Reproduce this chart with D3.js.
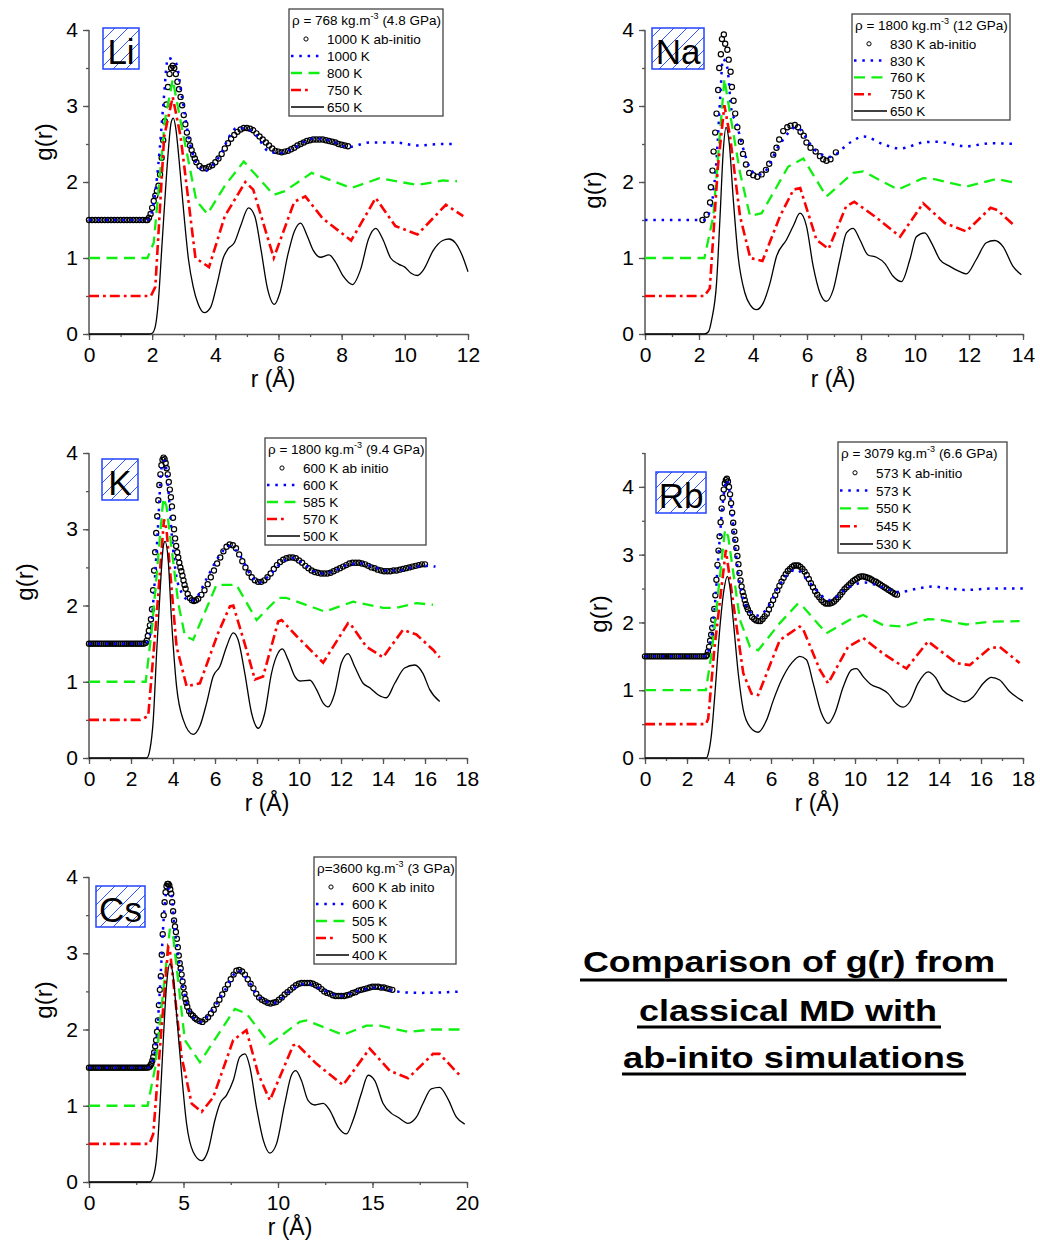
<!DOCTYPE html>
<html><head><meta charset="utf-8">
<script src="https://cdn.jsdelivr.net/npm/d3@7"></script>
<style>
body{margin:0;background:#fff;}
svg{display:block;font-family:"Liberation Sans",Arial,sans-serif;}
</style></head><body>
<svg id="c" width="1040" height="1244"></svg>
<script>
// ---------------- DATA (r in Å, g(r) with offsets as plotted) ----------------
const liAbInitio = [[0,1.5],[0.1,1.5],[0.2,1.5],[0.3,1.5],[0.4,1.5],[0.5,1.5],[0.6,1.5],[0.7,1.5],[0.8,1.5],[0.9,1.5],[1.0,1.5],[1.1,1.5],[1.2,1.5],[1.3,1.5],[1.4,1.5],[1.5,1.5],[1.6,1.5],[1.7,1.5],[1.8,1.5],[1.85,1.5],[1.9,1.53],[1.95,1.58],[2.0,1.66],[2.05,1.75],[2.1,1.82],[2.15,1.88],[2.2,1.95],[2.25,2.1],[2.3,2.32],[2.35,2.55],[2.4,2.8],[2.45,3.02],[2.5,3.25],[2.55,3.42],[2.6,3.5],[2.65,3.53],[2.7,3.5],[2.75,3.42],[2.8,3.32],[2.85,3.22],[2.9,3.12],[2.95,3.01],[3.0,2.88],[3.05,2.76],[3.1,2.65],[3.15,2.56],[3.2,2.48],[3.25,2.42],[3.3,2.36],[3.35,2.31],[3.4,2.26],[3.5,2.21],[3.6,2.18],[3.7,2.18],[3.8,2.2],[3.9,2.22],[4.0,2.26],[4.1,2.31],[4.2,2.37],[4.3,2.44],[4.4,2.51],[4.5,2.57],[4.6,2.62],[4.7,2.66],[4.8,2.69],[4.9,2.71],[5.0,2.71],[5.1,2.7],[5.2,2.68],[5.3,2.64],[5.4,2.6],[5.5,2.56],[5.6,2.52],[5.7,2.48],[5.8,2.44],[5.9,2.41],[6.0,2.4],[6.1,2.39],[6.2,2.4],[6.3,2.41],[6.4,2.43],[6.5,2.45],[6.6,2.48],[6.7,2.5],[6.8,2.52],[6.9,2.54],[7.0,2.55],[7.1,2.56],[7.2,2.56],[7.3,2.56],[7.4,2.56],[7.5,2.55],[7.6,2.54],[7.7,2.53],[7.8,2.52],[7.9,2.5],[8.0,2.49],[8.1,2.48],[8.2,2.47]];
const liHot = [[0,1.5],[1.85,1.5],[2.0,1.62],[2.2,2.25],[2.35,3.0],[2.5,3.63],[2.75,3.57],[2.95,3.1],[3.2,2.5],[3.4,2.25],[3.65,2.14],[4.05,2.29],[4.69,2.71],[5.0,2.7],[5.32,2.6],[5.69,2.4],[6.06,2.38],[6.5,2.45],[7.1,2.57],[7.6,2.55],[8.2,2.46],[8.9,2.52],[9.7,2.52],[10.4,2.48],[11.2,2.5],[11.65,2.5]];
const liMid = [[0,1.0],[1.85,1.0],[2.05,1.2],[2.4,2.8],[2.65,3.35],[2.9,2.8],[3.4,1.75],[3.75,1.58],[4.3,1.95],[4.9,2.27],[5.85,1.83],[6.2,1.88],[7.05,2.12],[8.3,1.92],[9.2,2.05],[10.4,1.96],[11.2,2.02],[11.65,2.01]];
const liLow = [[0,0.5],[1.96,0.5],[2.1,0.62],[2.38,2.6],[2.65,3.12],[2.9,2.6],[3.37,1.0],[3.8,0.88],[4.3,1.55],[4.95,2.0],[5.2,1.9],[5.85,1.0],[6.5,1.74],[6.85,1.81],[7.4,1.52],[8.3,1.23],[9.08,1.79],[9.7,1.42],[10.4,1.31],[11.3,1.7],[11.85,1.55]];
const liCold = [[0,0],[1.9,0],[2.0,0.01],[2.1,0.1],[2.2,0.45],[2.3,1.1],[2.4,1.75],[2.5,2.35],[2.6,2.78],[2.67,2.84],[2.75,2.7],[2.85,2.3],[3.0,1.6],[3.15,0.98],[3.3,0.62],[3.45,0.4],[3.65,0.28],[3.85,0.35],[4.05,0.65],[4.25,1.0],[4.4,1.12],[4.6,1.2],[4.8,1.42],[5.05,1.66],[5.25,1.55],[5.45,1.1],[5.65,0.6],[5.87,0.39],[6.05,0.55],[6.3,1.05],[6.5,1.35],[6.7,1.46],[6.9,1.3],[7.1,1.1],[7.33,1.01],[7.6,1.04],[7.8,0.95],[8.05,0.76],[8.34,0.65],[8.6,0.85],[8.85,1.25],[9.08,1.39],[9.3,1.25],[9.55,1.0],[9.8,0.92],[10.0,0.88],[10.2,0.8],[10.4,0.77],[10.6,0.85],[10.9,1.1],[11.2,1.23],[11.4,1.25],[11.6,1.2],[11.8,1.05],[12.0,0.82]];
const liLabels = ["1000 K ab-initio","1000 K","800 K","750 K","650 K"];
const liHeader = ["\u03c1 = 768 kg.m","-3"," (4.8 GPa)"];

const naAbInitio = [[2.13,1.5],[2.28,1.57],[2.41,1.73],[2.44,1.93],[2.5,2.15],[2.54,2.4],[2.6,2.65],[2.65,2.9],[2.71,3.21],[2.75,3.5],[2.81,3.68],[2.85,3.88],[2.92,3.94],[2.97,3.82],[3.05,3.74],[3.1,3.61],[3.17,3.45],[3.22,3.25],[3.28,3.07],[3.34,2.9],[3.42,2.72],[3.55,2.53],[3.63,2.37],[3.74,2.23],[3.86,2.12],[4.01,2.09],[4.16,2.07],[4.32,2.1],[4.48,2.16],[4.6,2.24],[4.75,2.36],[4.87,2.45],[4.97,2.56],[5.12,2.67],[5.27,2.72],[5.39,2.74],[5.55,2.75],[5.67,2.72],[5.76,2.66],[5.88,2.61],[5.98,2.52],[6.13,2.45],[6.32,2.4],[6.48,2.34],[6.6,2.3],[6.72,2.28],[6.87,2.3],[7.07,2.39]];
const naHot = [[0,1.5],[2.2,1.5],[2.45,1.68],[2.65,2.3],[2.8,3.2],[2.88,3.62],[3.05,3.5],[3.2,2.95],[3.39,2.77],[3.58,2.51],[4.0,2.13],[4.3,2.1],[5.0,2.5],[5.6,2.72],[6.3,2.42],[6.85,2.33],[7.6,2.52],[8.1,2.6],[8.8,2.5],[9.45,2.44],[10.3,2.52],[10.8,2.53],[11.9,2.47],[12.8,2.51],[13.7,2.5]];
const naMid = [[0,1.0],[2.2,1.0],[2.53,1.55],[2.94,3.36],[3.15,2.9],[3.52,2.12],[3.89,1.55],[4.32,1.59],[5.3,2.2],[5.86,2.31],[6.72,1.81],[7.71,2.12],[8.08,2.14],[9.37,1.9],[10.3,2.05],[10.67,2.04],[11.9,1.94],[13.01,2.04],[13.69,1.99]];
const naLow = [[0,0.5],[2.2,0.5],[2.4,0.6],[2.7,2.2],[2.94,3.01],[3.15,2.6],[3.52,1.55],[3.9,1.0],[4.35,0.96],[5.0,1.55],[5.5,1.9],[5.75,1.92],[6.35,1.24],[6.8,1.12],[7.45,1.68],[7.75,1.74],[8.5,1.55],[9.45,1.28],[10.3,1.72],[11.1,1.46],[11.9,1.35],[12.8,1.66],[13.05,1.63],[13.7,1.42]];
const naCold = [[0,0],[2.2,0],[2.35,0.03],[2.47,0.19],[2.65,0.67],[2.78,1.55],[2.9,2.42],[3.0,2.72],[3.12,2.51],[3.27,1.77],[3.45,1.02],[3.7,0.54],[3.9,0.38],[4.13,0.32],[4.38,0.41],[4.63,0.67],[4.87,1.02],[5.24,1.24],[5.49,1.42],[5.74,1.59],[5.98,1.42],[6.23,0.89],[6.48,0.54],[6.72,0.43],[6.97,0.58],[7.22,0.98],[7.46,1.33],[7.71,1.39],[7.96,1.24],[8.26,1.04],[8.57,1.01],[8.88,0.93],[9.19,0.76],[9.5,0.69],[9.81,0.98],[10.05,1.28],[10.36,1.33],[10.61,1.2],[10.92,0.98],[11.29,0.89],[11.66,0.82],[11.9,0.79],[12.27,0.98],[12.64,1.2],[12.95,1.23],[13.26,1.15],[13.63,0.89],[13.94,0.78]];
const naLabels = ["830 K ab-initio","830 K","760 K","750 K","650 K"];
const naHeader = ["\u03c1 = 1800 kg.m","-3"," (12 GPa)"];

const kAbInitio = [[0,1.5],[0.1,1.5],[0.2,1.5],[0.3,1.5],[0.4,1.5],[0.5,1.5],[0.6,1.5],[0.7,1.5],[0.8,1.5],[0.9,1.5],[1.0,1.5],[1.1,1.5],[1.2,1.5],[1.3,1.5],[1.4,1.5],[1.5,1.5],[1.6,1.5],[1.7,1.5],[1.8,1.5],[1.9,1.5],[2.0,1.5],[2.1,1.5],[2.2,1.5],[2.3,1.5],[2.4,1.5],[2.5,1.5],[2.6,1.5],[2.7,1.51],[2.75,1.54],[2.8,1.6],[2.85,1.67],[2.9,1.74],[2.95,1.82],[3.0,1.95],[3.05,2.2],[3.1,2.46],[3.15,2.7],[3.2,2.95],[3.25,3.17],[3.3,3.38],[3.35,3.58],[3.4,3.72],[3.45,3.84],[3.5,3.91],[3.55,3.94],[3.6,3.92],[3.65,3.87],[3.7,3.8],[3.75,3.72],[3.8,3.62],[3.85,3.52],[3.9,3.42],[3.95,3.3],[4.0,3.15],[4.05,3.0],[4.1,2.88],[4.15,2.78],[4.2,2.7],[4.25,2.63],[4.3,2.56],[4.35,2.5],[4.4,2.45],[4.45,2.39],[4.5,2.33],[4.55,2.27],[4.6,2.22],[4.7,2.15],[4.8,2.1],[4.9,2.07],[5.0,2.06],[5.1,2.07],[5.2,2.09],[5.35,2.14],[5.5,2.2],[5.65,2.28],[5.8,2.37],[5.95,2.46],[6.1,2.55],[6.25,2.63],[6.4,2.71],[6.55,2.77],[6.7,2.8],[6.85,2.79],[7.0,2.75],[7.15,2.67],[7.3,2.58],[7.45,2.5],[7.6,2.43],[7.75,2.37],[7.9,2.33],[8.05,2.31],[8.2,2.31],[8.35,2.33],[8.5,2.37],[8.65,2.42],[8.8,2.48],[8.95,2.53],[9.1,2.57],[9.25,2.6],[9.4,2.62],[9.55,2.63],[9.7,2.63],[9.85,2.62],[10.0,2.59],[10.15,2.56],[10.3,2.52],[10.45,2.49],[10.6,2.46],[10.75,2.44],[10.9,2.43],[11.05,2.42],[11.2,2.42],[11.35,2.42],[11.5,2.43],[11.65,2.45],[11.8,2.47],[11.95,2.49],[12.1,2.51],[12.25,2.53],[12.4,2.55],[12.55,2.56],[12.7,2.56],[12.85,2.56],[13.0,2.55],[13.15,2.54],[13.3,2.52],[13.45,2.5],[13.6,2.49],[13.75,2.47],[13.9,2.46],[14.05,2.45],[14.2,2.45],[14.35,2.45],[14.5,2.46],[14.65,2.46],[14.8,2.47],[14.95,2.48],[15.1,2.49],[15.25,2.5],[15.4,2.51],[15.55,2.52],[15.7,2.53],[15.85,2.54],[16.0,2.54]];
const kHot = [[0,1.5],[2.7,1.5],[2.9,1.6],[3.1,2.2],[3.3,3.1],[3.45,3.8],[3.6,3.9],[3.75,3.6],[3.95,2.9],[4.15,2.4],[4.45,2.15],[4.8,2.06],[5.1,2.1],[5.6,2.35],[6.2,2.65],[6.7,2.78],[7.2,2.65],[7.7,2.4],[8.1,2.3],[8.6,2.4],[9.2,2.57],[9.7,2.62],[10.2,2.55],[10.7,2.45],[11.2,2.42],[11.8,2.47],[12.4,2.54],[13.0,2.55],[13.6,2.5],[14.2,2.46],[14.8,2.46],[15.4,2.5],[16.0,2.52],[16.5,2.51]];
const kMid = [[0,1.0],[2.7,1.0],[3.0,1.7],[3.54,3.41],[3.69,3.3],[4.25,2.03],[4.57,1.6],[4.96,1.55],[6.07,2.27],[7.02,2.27],[7.98,1.81],[9.01,2.1],[9.4,2.1],[11.23,1.92],[12.58,2.05],[14.0,1.97],[14.64,1.97],[15.59,2.03],[16.38,2.01]];
const kLow = [[0,0.5],[2.43,0.5],[2.82,0.55],[3.2,1.8],[3.57,3.13],[3.69,3.0],[4.17,1.46],[4.65,0.94],[5.28,0.98],[6.15,1.64],[6.71,1.99],[6.87,2.0],[7.5,1.42],[7.9,1.03],[8.29,1.07],[9.01,1.79],[9.17,1.81],[9.88,1.6],[11.15,1.25],[12.34,1.77],[12.42,1.77],[13.21,1.46],[14.0,1.32],[14.95,1.68],[15.59,1.62],[16.38,1.42],[16.7,1.32]];
const kCold = [[0,0],[2.75,0],[2.9,0.11],[3.06,0.5],[3.22,1.38],[3.38,2.16],[3.54,2.78],[3.62,2.84],[3.77,2.6],[3.93,1.81],[4.17,0.94],[4.49,0.5],[4.96,0.31],[5.28,0.42],[5.6,0.72],[5.91,1.07],[6.23,1.2],[6.55,1.46],[6.87,1.64],[7.1,1.55],[7.42,1.11],[7.74,0.59],[8.06,0.39],[8.37,0.59],[8.69,1.11],[9.01,1.38],[9.21,1.43],[9.48,1.29],[9.8,1.07],[10.04,1.01],[10.52,1.02],[10.83,0.9],[11.15,0.72],[11.39,0.67],[11.7,0.85],[12.02,1.25],[12.34,1.37],[12.65,1.2],[13.05,0.98],[13.37,0.92],[13.76,0.83],[14.16,0.79],[14.56,0.98],[15.03,1.18],[15.51,1.22],[15.9,1.11],[16.22,0.9],[16.7,0.74]];
const kLabels = ["600 K ab initio","600 K","585 K","570 K","500 K"];
const kHeader = ["\u03c1 = 1800 kg.m","-3"," (9.4 GPa)"];

const rbAbInitio = [[0,1.5],[0.1,1.5],[0.2,1.5],[0.3,1.5],[0.4,1.5],[0.5,1.5],[0.6,1.5],[0.7,1.5],[0.8,1.5],[0.9,1.5],[1.0,1.5],[1.1,1.5],[1.2,1.5],[1.3,1.5],[1.4,1.5],[1.5,1.5],[1.6,1.5],[1.7,1.5],[1.8,1.5],[1.9,1.5],[2.0,1.5],[2.1,1.5],[2.2,1.5],[2.3,1.5],[2.4,1.5],[2.5,1.5],[2.6,1.5],[2.7,1.5],[2.8,1.5],[2.9,1.5],[2.95,1.52],[3.0,1.57],[3.05,1.64],[3.1,1.73],[3.15,1.82],[3.2,1.92],[3.25,2.04],[3.3,2.2],[3.35,2.4],[3.4,2.63],[3.45,2.85],[3.5,3.06],[3.55,3.27],[3.6,3.48],[3.65,3.68],[3.7,3.84],[3.75,3.96],[3.8,4.05],[3.85,4.1],[3.9,4.12],[3.95,4.08],[4.0,4.0],[4.05,3.89],[4.1,3.76],[4.15,3.62],[4.2,3.47],[4.25,3.34],[4.3,3.22],[4.35,3.1],[4.4,2.98],[4.45,2.86],[4.5,2.73],[4.55,2.62],[4.6,2.53],[4.65,2.45],[4.7,2.39],[4.75,2.33],[4.8,2.27],[4.85,2.23],[4.9,2.19],[5.0,2.14],[5.1,2.08],[5.2,2.05],[5.3,2.03],[5.4,2.02],[5.5,2.02],[5.6,2.05],[5.7,2.09],[5.8,2.13],[5.9,2.19],[6.0,2.26],[6.1,2.33],[6.2,2.4],[6.3,2.47],[6.4,2.54],[6.5,2.6],[6.6,2.66],[6.7,2.71],[6.8,2.76],[6.9,2.79],[7.0,2.82],[7.1,2.84],[7.2,2.84],[7.3,2.84],[7.4,2.82],[7.5,2.79],[7.6,2.75],[7.7,2.7],[7.8,2.64],[7.9,2.58],[8.0,2.52],[8.1,2.46],[8.2,2.41],[8.3,2.37],[8.4,2.33],[8.5,2.3],[8.6,2.28],[8.7,2.28],[8.8,2.28],[8.9,2.29],[9.0,2.31],[9.1,2.34],[9.2,2.37],[9.3,2.41],[9.4,2.45],[9.5,2.49],[9.6,2.52],[9.7,2.55],[9.8,2.58],[9.9,2.61],[10.0,2.63],[10.1,2.65],[10.2,2.67],[10.3,2.68],[10.4,2.68],[10.5,2.67],[10.6,2.66],[10.7,2.65],[10.8,2.63],[10.9,2.61],[11.0,2.6],[11.1,2.58],[11.2,2.56],[11.3,2.54],[11.4,2.52],[11.5,2.5],[11.6,2.48],[11.7,2.46],[11.8,2.44],[11.9,2.42],[12.0,2.41]];
const rbHot = [[0,1.5],[2.9,1.5],[3.1,1.68],[3.3,2.15],[3.5,3.0],[3.7,3.75],[3.9,4.1],[4.1,3.75],[4.3,3.1],[4.5,2.6],[4.8,2.25],[5.3,2.1],[5.8,2.2],[6.4,2.55],[7.2,2.78],[7.8,2.6],[8.8,2.33],[9.6,2.5],[10.45,2.59],[11.3,2.52],[12.1,2.45],[13.0,2.5],[13.7,2.53],[14.5,2.5],[15.3,2.48],[16.5,2.5],[18.0,2.5]];
const rbMid = [[0,1.0],[2.9,1.0],[3.17,1.54],[3.81,3.37],[3.96,3.27],[4.52,2.04],[5.0,1.64],[5.39,1.59],[6.42,1.99],[7.29,2.28],[7.53,2.23],[8.64,1.84],[9.75,2.04],[10.39,2.11],[11.34,1.96],[12.29,1.94],[13.48,2.05],[14.03,2.04],[15.3,1.97],[16.41,2.01],[17.84,2.02]];
const rbLow = [[0,0.5],[2.9,0.5],[3.01,0.58],[3.3,1.6],[3.85,3.07],[4.36,1.94],[4.68,1.25],[5.07,0.95],[5.39,0.93],[6.42,1.74],[7.37,1.94],[7.53,1.9],[8.33,1.3],[8.72,1.1],[9.67,1.64],[10.39,1.77],[11.34,1.54],[12.29,1.35],[12.45,1.32],[13.48,1.72],[14.83,1.4],[15.46,1.37],[16.41,1.62],[16.89,1.64],[17.84,1.4]];
const rbCold = [[0,0],[2.93,0],[3.01,0.06],[3.17,0.36],[3.33,0.95],[3.57,1.94],[3.76,2.48],[3.92,2.68],[4.04,2.53],[4.2,2.04],[4.44,1.25],[4.68,0.71],[5.0,0.46],[5.39,0.38],[5.79,0.56],[6.11,0.85],[6.5,1.15],[6.98,1.4],[7.37,1.5],[7.69,1.45],[8.01,1.1],[8.4,0.66],[8.72,0.51],[9.04,0.66],[9.44,1.05],[9.83,1.3],[10.07,1.32],[10.39,1.2],[10.78,1.08],[11.18,1.03],[11.58,0.95],[11.97,0.8],[12.29,0.75],[12.61,0.83],[13.0,1.1],[13.48,1.27],[13.8,1.2],[14.19,1.0],[14.67,0.9],[15.22,0.83],[15.62,0.9],[16.1,1.1],[16.49,1.19],[16.89,1.15],[17.36,0.98],[18.0,0.84]];
const rbLabels = ["573 K ab-initio","573 K","550 K","545 K","530 K"];
const rbHeader = ["\u03c1 = 3079 kg.m","-3"," (6.6 GPa)"];

const csAbInitio = [[0,1.5],[0.1,1.5],[0.2,1.5],[0.3,1.5],[0.4,1.5],[0.5,1.5],[0.6,1.5],[0.7,1.5],[0.8,1.5],[0.9,1.5],[1.0,1.5],[1.1,1.5],[1.2,1.5],[1.3,1.5],[1.4,1.5],[1.5,1.5],[1.6,1.5],[1.7,1.5],[1.8,1.5],[1.9,1.5],[2.0,1.5],[2.1,1.5],[2.2,1.5],[2.3,1.5],[2.4,1.5],[2.5,1.5],[2.6,1.5],[2.7,1.5],[2.8,1.5],[2.9,1.5],[3.0,1.5],[3.1,1.5],[3.2,1.51],[3.25,1.53],[3.3,1.55],[3.35,1.59],[3.4,1.64],[3.45,1.7],[3.5,1.78],[3.55,1.86],[3.6,1.97],[3.65,2.12],[3.7,2.32],[3.75,2.52],[3.8,2.7],[3.85,2.98],[3.9,3.25],[3.95,3.5],[4.0,3.67],[4.05,3.8],[4.1,3.88],[4.15,3.91],[4.2,3.91],[4.25,3.89],[4.3,3.84],[4.35,3.78],[4.4,3.67],[4.45,3.55],[4.5,3.43],[4.55,3.35],[4.6,3.28],[4.65,3.19],[4.7,3.08],[4.75,2.97],[4.8,2.87],[4.85,2.8],[4.9,2.72],[4.95,2.63],[5.0,2.55],[5.05,2.47],[5.1,2.4],[5.15,2.35],[5.2,2.3],[5.3,2.24],[5.4,2.2],[5.5,2.18],[5.6,2.15],[5.7,2.13],[5.85,2.11],[6.0,2.1],[6.15,2.13],[6.3,2.16],[6.45,2.21],[6.6,2.26],[6.75,2.33],[6.9,2.39],[7.05,2.46],[7.2,2.53],[7.35,2.59],[7.5,2.66],[7.65,2.72],[7.8,2.77],[7.95,2.78],[8.1,2.76],[8.25,2.72],[8.4,2.66],[8.55,2.6],[8.7,2.54],[8.85,2.47],[9.0,2.42],[9.15,2.39],[9.3,2.37],[9.45,2.35],[9.6,2.34],[9.75,2.35],[9.9,2.36],[10.05,2.39],[10.2,2.42],[10.35,2.46],[10.5,2.49],[10.65,2.52],[10.8,2.55],[10.95,2.58],[11.1,2.6],[11.25,2.61],[11.4,2.61],[11.55,2.61],[11.7,2.61],[11.85,2.6],[12.0,2.58],[12.15,2.56],[12.3,2.53],[12.45,2.5],[12.6,2.48],[12.75,2.47],[12.9,2.45],[13.05,2.44],[13.2,2.44],[13.35,2.44],[13.5,2.44],[13.65,2.45],[13.8,2.46],[13.95,2.48],[14.1,2.49],[14.25,2.51],[14.4,2.52],[14.55,2.53],[14.7,2.54],[14.85,2.55],[15.0,2.56],[15.15,2.56],[15.3,2.56],[15.45,2.55],[15.6,2.55],[15.75,2.54],[15.9,2.53],[16.05,2.52]];
const csHot = [[0,1.5],[3.1,1.5],[3.35,1.58],[3.6,1.95],[3.8,2.75],[3.95,3.45],[4.15,3.85],[4.35,3.8],[4.5,3.4],[4.7,3.0],[4.95,2.6],[5.3,2.25],[5.9,2.1],[6.5,2.25],[7.2,2.52],[7.9,2.77],[8.4,2.65],[9.0,2.42],[9.8,2.35],[10.6,2.5],[11.5,2.6],[12.3,2.53],[13.3,2.44],[14.2,2.5],[15.2,2.55],[16.2,2.5],[17.5,2.48],[19.8,2.5]];
const csMid = [[0,1.0],[3.1,1.0],[3.5,1.5],[4.28,3.32],[4.46,3.21],[5.07,1.86],[5.87,1.57],[7.72,2.27],[8.33,2.21],[9.57,1.81],[11.15,2.1],[11.5,2.12],[13.44,1.93],[14.68,2.05],[15.38,2.05],[16.88,1.97],[18.2,2.0],[19.61,2.0]];
const csLow = [[0,0.5],[3.2,0.5],[3.4,0.63],[3.8,1.9],[4.19,3.08],[4.28,3.04],[4.9,1.64],[5.43,1.03],[5.96,0.92],[6.57,1.11],[7.63,1.86],[8.33,1.99],[8.95,1.42],[9.57,1.07],[10.8,1.79],[10.98,1.81],[12.04,1.55],[13.44,1.27],[14.85,1.75],[15.91,1.46],[16.88,1.36],[18.2,1.68],[18.55,1.68],[19.61,1.4]];
const csCold = [[0,0],[3.22,0],[3.4,0.07],[3.58,0.33],[3.75,0.98],[3.93,1.86],[4.11,2.6],[4.28,2.86],[4.46,2.69],[4.63,2.21],[4.9,1.42],[5.16,0.77],[5.52,0.39],[5.96,0.28],[6.31,0.42],[6.66,0.81],[6.93,1.03],[7.28,1.14],[7.63,1.33],[7.98,1.64],[8.25,1.68],[8.51,1.51],[8.86,0.98],[9.22,0.55],[9.57,0.38],[9.92,0.5],[10.36,1.03],[10.71,1.4],[10.94,1.46],[11.24,1.33],[11.59,1.07],[11.95,1.01],[12.39,1.03],[12.74,0.94],[13.18,0.72],[13.62,0.63],[13.97,0.81],[14.41,1.16],[14.77,1.4],[15.12,1.33],[15.56,1.03],[16.0,0.9],[16.35,0.85],[16.88,0.77],[17.32,0.85],[17.67,1.03],[18.11,1.22],[18.55,1.24],[18.99,1.09],[19.44,0.85],[19.88,0.76]];
const csLabels = ["600 K ab inito","600 K","505 K","500 K","400 K"];
const csHeader = ["\u03c1=3600 kg.m","-3"," (3 GPa)"];

const titleLines = ["Comparison of g(r) from","classical MD with","ab-inito simulations"];

// ---------------- LAYOUT ----------------
const panels = [
  {name:"Li", ab:liAbInitio, hot:liHot, mid:liMid, low:liLow, cold:liCold, labels:liLabels, header:liHeader,
   px:[89,468], py:[334,30], xMax:12, yMax:4, xMajor:2, xMinor:1,
   box:[103,28,36,41], leg:[289,9,154,107], gPos:[44,142], rPos:[273,387]},
  {name:"Na", ab:naAbInitio, hot:naHot, mid:naMid, low:naLow, cold:naCold, labels:naLabels, header:naHeader,
   px:[645,1023], py:[334,30], xMax:14, yMax:4, xMajor:2, xMinor:1,
   box:[652,28,52,41], leg:[852,14,158,106], gPos:[593,190], rPos:[833,387]},
  {name:"K", ab:kAbInitio, hot:kHot, mid:kMid, low:kLow, cold:kCold, labels:kLabels, header:kHeader,
   px:[89,467], py:[758,453], xMax:18, yMax:4, xMajor:2, xMinor:1,
   box:[102,459,36,41], leg:[265,438,161,107], gPos:[25,582], rPos:[267,811]},
  {name:"Rb", ab:rbAbInitio, hot:rbHot, mid:rbMid, low:rbLow, cold:rbCold, labels:rbLabels, header:rbHeader,
   px:[645,1023], py:[758,453], xMax:18, yMax:4.5, xMajor:2, xMinor:1,
   box:[656,472,50,41], leg:[838,442,169,111], gPos:[599,614], rPos:[817,811]},
  {name:"Cs", ab:csAbInitio, hot:csHot, mid:csMid, low:csLow, cold:csCold, labels:csLabels, header:csHeader,
   px:[89,467], py:[1182,877], xMax:20, yMax:4, xMajor:5, xMinor:2.5,
   box:[96,886,49,41], leg:[314,857,142,107], gPos:[44,1000], rPos:[290,1235]}
];

const svg = d3.select("#c");
const defs = svg.append("defs");
const pat = defs.append("pattern").attr("id","hatch").attr("patternUnits","userSpaceOnUse")
  .attr("width",13).attr("height",13);
pat.append("rect").attr("width",13).attr("height",13).attr("fill","#fff");
pat.append("path").attr("d","M0,13L13,0M-3,3L3,-3M10,16L16,10")
  .attr("stroke","#3355ff").attr("stroke-width",1);

const COL = {hot:"#0000ff", mid:"#10f010", low:"#ff0000", cold:"#000"};
const DASH = {hot:"2.5,5.8", mid:"11,6.5", low:"10,4,2.8,4", cold:null};
const WID = {hot:2.5, mid:2.3, low:2.6, cold:1.3};
const LEGLEN = {hot:29, mid:31, low:20, cold:33};

function styleAxis(sel){
  sel.select(".domain").attr("stroke","#555").attr("stroke-width",1.5);
  sel.selectAll(".tick line").attr("stroke","#555").attr("stroke-width",1.3);
  sel.selectAll(".tick text").attr("fill","#000").attr("font-size",21)
     .attr("font-family","'Liberation Sans',Arial,sans-serif");
  sel.attr("font-family",null).attr("font-size",null);
}

panels.forEach(p=>{
  const x = d3.scaleLinear().domain([0,p.xMax]).range(p.px);
  const y = d3.scaleLinear().domain([0,p.yMax]).range(p.py);
  const g = svg.append("g");
  const eps = 1e-9;

  // minor ticks
  g.append("g").attr("transform",`translate(0,${p.py[0]})`)
    .call(d3.axisBottom(x).tickValues(d3.range(0,p.xMax+eps,p.xMinor)).tickSize(3).tickFormat(""))
    .call(s=>{s.select(".domain").remove(); s.selectAll("line").attr("stroke","#555").attr("stroke-width",1.3);});
  g.append("g").attr("transform",`translate(${p.px[0]},0)`)
    .call(d3.axisLeft(y).tickValues(d3.range(0,p.yMax+eps,0.5)).tickSize(3).tickFormat(""))
    .call(s=>{s.select(".domain").remove(); s.selectAll("line").attr("stroke","#555").attr("stroke-width",1.3);});
  // major axes
  g.append("g").attr("transform",`translate(0,${p.py[0]})`)
    .call(d3.axisBottom(x).tickValues(d3.range(0,p.xMax+eps,p.xMajor)).tickSize(6).tickSizeOuter(0).tickPadding(7).tickFormat(d3.format("d")))
    .call(styleAxis);
  g.append("g").attr("transform",`translate(${p.px[0]},0)`)
    .call(d3.axisLeft(y).tickValues(d3.range(0,4+eps,1)).tickSize(6).tickSizeOuter(0).tickPadding(5).tickFormat(d3.format("d")))
    .call(styleAxis)
    .call(s=>s.select(".domain").attr("d",`M0,${p.py[0]}V${p.py[1]}`));

  // axis titles
  g.append("text").attr("transform",`translate(${p.gPos[0]},${p.gPos[1]}) rotate(-90)`)
    .attr("text-anchor","middle").attr("dy","0.35em").attr("font-size",24).text("g(r)");
  g.append("text").attr("x",p.rPos[0]).attr("y",p.rPos[1]).attr("text-anchor","middle")
    .attr("font-size",23).text("r (\u00c5)");

  // series
  g.append("g").selectAll("circle").data(p.ab).join("circle")
    .attr("cx",d=>x(d[0])).attr("cy",d=>y(d[1])).attr("r",2.6)
    .attr("fill","none").attr("stroke","#000").attr("stroke-width",1.2);
  const line = d3.line().x(d=>x(d[0])).y(d=>y(d[1]));
  [["hot",d3.curveMonotoneX],["mid",d3.curveLinear],["low",d3.curveLinear],["cold",d3.curveMonotoneX]].forEach(([k,c])=>{
    g.append("path").datum(p[k]).attr("d",line.curve(c)).attr("fill","none")
      .attr("stroke",COL[k]).attr("stroke-width",WID[k]).attr("stroke-dasharray",DASH[k]);
  });

  // element label box
  const [bx,by,bw,bh] = p.box;
  g.append("rect").attr("x",bx).attr("y",by).attr("width",bw).attr("height",bh)
    .attr("fill","url(#hatch)").attr("stroke","#2244ff").attr("stroke-width",1.5);
  g.append("text").attr("x",bx+bw/2).attr("y",by+36).attr("text-anchor","middle")
    .attr("font-size",35).attr("fill","#000").text(p.name);

  // legend
  const [lx,ly,lw,lh] = p.leg;
  const lg = g.append("g");
  lg.append("rect").attr("x",lx).attr("y",ly).attr("width",lw).attr("height",lh)
    .attr("fill","#fff").attr("stroke","#444").attr("stroke-width",1.3);
  const sp = (lh-22)/5;
  const rowY = i => ly+13+i*sp;
  const ht = lg.append("text").attr("x",lx+3).attr("y",rowY(0)+3).attr("font-size",13.5);
  ht.append("tspan").text(p.header[0]);
  ht.append("tspan").attr("dy",-6).attr("font-size",9).text(p.header[1]);
  ht.append("tspan").attr("dy",6).text(p.header[2]);
  const keys = ["ab","hot","mid","low","cold"];
  keys.forEach((k,i)=>{
    const cy = rowY(i+1);
    if(k==="ab"){
      lg.append("circle").attr("cx",lx+17).attr("cy",cy).attr("r",2.1)
        .attr("fill","none").attr("stroke","#000").attr("stroke-width",1);
    } else {
      lg.append("line").attr("x1",lx+2).attr("x2",lx+2+LEGLEN[k]).attr("y1",cy).attr("y2",cy)
        .attr("stroke",COL[k]).attr("stroke-width",WID[k]).attr("stroke-dasharray",DASH[k]);
    }
    lg.append("text").attr("x",lx+38).attr("y",cy+5).attr("font-size",13.5).text(p.labels[i]);
  });
});

// title block
const tl = [{x:583,y:972,w:412,u:[580,1007,980]},{x:639,y:1021,w:298,u:[637,941,1027]},{x:623,y:1068,w:342,u:[622,966,1074]}];
titleLines.forEach((t,i)=>{
  svg.append("text").attr("x",tl[i].x).attr("y",tl[i].y).attr("font-size",30).attr("font-weight","bold")
    .attr("textLength",tl[i].w).attr("lengthAdjust","spacingAndGlyphs").text(t);
  svg.append("line").attr("x1",tl[i].u[0]).attr("x2",tl[i].u[1]).attr("y1",tl[i].u[2]).attr("y2",tl[i].u[2])
    .attr("stroke","#000").attr("stroke-width",3);
});
</script>
</body></html>
